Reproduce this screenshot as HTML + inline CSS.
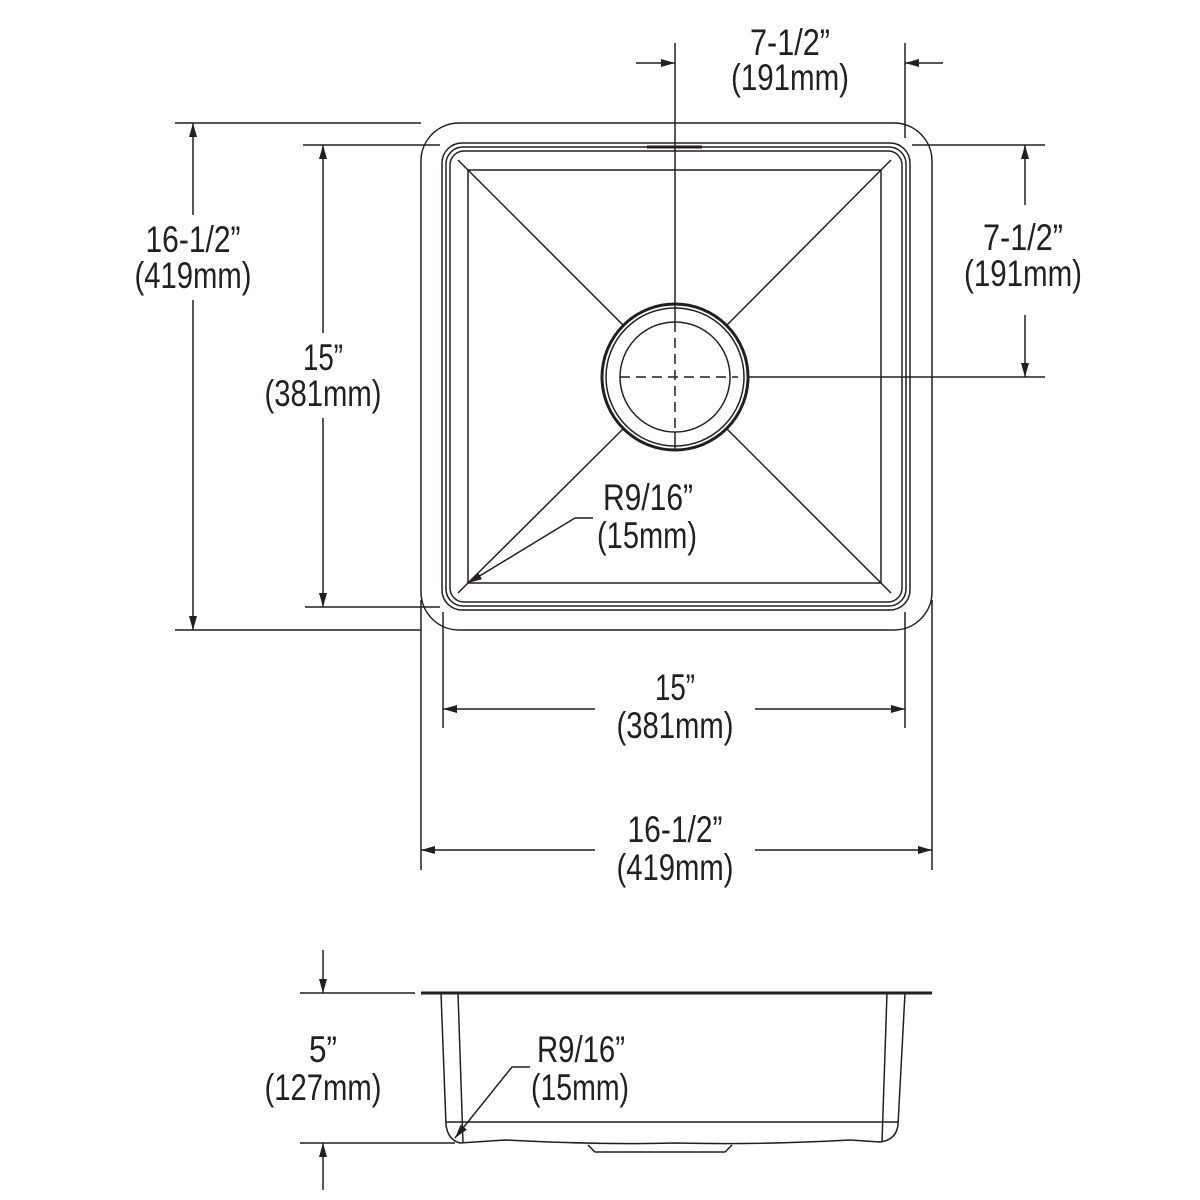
<!DOCTYPE html>
<html><head><style>html,body{margin:0;padding:0;background:#fff}svg{display:block}
text{font-family:"Liberation Sans",sans-serif;font-size:37px;fill:#231f20;text-anchor:middle}</style></head>
<body>
<svg width="1200" height="1200" viewBox="0 0 1200 1200" xmlns="http://www.w3.org/2000/svg">
<defs>
<marker id="a" viewBox="0 0 10 10" refX="10" refY="5" markerWidth="14" markerHeight="8" markerUnits="userSpaceOnUse" orient="auto-start-reverse" preserveAspectRatio="none"><path d="M0,0L10,5L0,10z" fill="#231f20"/></marker>
</defs>
<g fill="none" stroke="#231f20" stroke-width="1.5">
<rect x="421" y="123" width="511" height="507" rx="38"/>
<rect x="442" y="143" width="468" height="467" rx="20"/>
<rect x="446" y="147" width="460" height="459" rx="17"/>
<rect x="450" y="151" width="452" height="451" rx="14"/>
<rect x="468" y="170" width="413" height="413"/>
<path d="M458,160 L468,170 M891,160 L881,170 M458,593 L468,583 M891,593 L881,583"/>
<path d="M468,170L623,325M881,170L727,325M468,583L623,429M881,583L727,429"/>
<circle cx="675" cy="377" r="73" stroke-width="3"/>
<circle cx="675" cy="377" r="69" stroke-width="1.5"/>
<circle cx="675" cy="377" r="55"/>
<path d="M620,377H738" stroke-dasharray="10,6"/>
<path d="M675,322V432" stroke-dasharray="10,6"/>
<line x1="647" y1="147" x2="702" y2="147" stroke-width="3"/>
<line x1="675" y1="43" x2="675" y2="322"/>
<line x1="675" y1="432" x2="675" y2="450"/>
<line x1="905" y1="43" x2="905" y2="138"/>
<line x1="636" y1="63" x2="675" y2="63" marker-end="url(#a)"/>
<line x1="943" y1="63" x2="905" y2="63" marker-end="url(#a)"/>
<line x1="912" y1="145" x2="1045" y2="145"/>
<line x1="748" y1="377" x2="1045" y2="377"/>
<line x1="1025" y1="205" x2="1025" y2="145" marker-end="url(#a)"/>
<line x1="1025" y1="315" x2="1025" y2="377" marker-end="url(#a)"/>
<line x1="175" y1="123" x2="421" y2="123"/>
<line x1="175" y1="630" x2="421" y2="630"/>
<line x1="193" y1="215" x2="193" y2="123" marker-end="url(#a)"/>
<line x1="193" y1="300" x2="193" y2="630" marker-end="url(#a)"/>
<line x1="303" y1="145" x2="440" y2="145"/>
<line x1="305" y1="607" x2="440" y2="607"/>
<line x1="323" y1="333" x2="323" y2="145" marker-end="url(#a)"/>
<line x1="323" y1="418" x2="323" y2="607" marker-end="url(#a)"/>
<line x1="443" y1="612" x2="443" y2="728"/>
<line x1="905" y1="612" x2="905" y2="728"/>
<line x1="595" y1="709" x2="443" y2="709" marker-end="url(#a)"/>
<line x1="755" y1="709" x2="905" y2="709" marker-end="url(#a)"/>
<line x1="421" y1="600" x2="421" y2="870"/>
<line x1="932" y1="600" x2="932" y2="870"/>
<line x1="595" y1="850" x2="421" y2="850" marker-end="url(#a)"/>
<line x1="755" y1="850" x2="932" y2="850" marker-end="url(#a)"/>
<polyline points="593,518 575,518 468,583" marker-end="url(#a)"/>
<line x1="421" y1="993" x2="932" y2="993" stroke-width="3"/>
<path d="M441,993 L446,1125 Q448,1140 460,1143 L505,1140 Q600,1145 675,1143 Q760,1145 850,1140 L880,1142 Q896,1140 898,1125 L905,993"/>
<path d="M458,993 L463,1143 M887,993 L882,1142"/>
<line x1="446" y1="1122" x2="898" y2="1122"/>
<path d="M588,1145 L595,1152 L725,1152 L732,1145"/>
<line x1="300" y1="993" x2="415" y2="993"/>
<line x1="300" y1="1143" x2="455" y2="1143"/>
<line x1="323" y1="950" x2="323" y2="993" marker-end="url(#a)"/>
<line x1="323" y1="1190" x2="323" y2="1143" marker-end="url(#a)"/>
<polyline points="530,1067 512,1067 455,1138" marker-end="url(#a)"/>
</g>
<g>
<text x="790" y="55" textLength="80" lengthAdjust="spacingAndGlyphs">7-1/2”</text>
<text x="790" y="90" textLength="118" lengthAdjust="spacingAndGlyphs">(191mm)</text>
<text x="1023" y="250" textLength="80" lengthAdjust="spacingAndGlyphs">7-1/2”</text>
<text x="1023" y="286" textLength="118" lengthAdjust="spacingAndGlyphs">(191mm)</text>
<text x="193" y="252" textLength="95" lengthAdjust="spacingAndGlyphs">16-1/2”</text>
<text x="193" y="288" textLength="117" lengthAdjust="spacingAndGlyphs">(419mm)</text>
<text x="323" y="370" textLength="40" lengthAdjust="spacingAndGlyphs">15”</text>
<text x="323" y="406" textLength="117" lengthAdjust="spacingAndGlyphs">(381mm)</text>
<text x="648" y="510" textLength="90" lengthAdjust="spacingAndGlyphs">R9/16”</text>
<text x="647" y="548" textLength="100" lengthAdjust="spacingAndGlyphs">(15mm)</text>
<text x="675" y="700" textLength="40" lengthAdjust="spacingAndGlyphs">15”</text>
<text x="675" y="738" textLength="117" lengthAdjust="spacingAndGlyphs">(381mm)</text>
<text x="675" y="842" textLength="95" lengthAdjust="spacingAndGlyphs">16-1/2”</text>
<text x="675" y="880" textLength="117" lengthAdjust="spacingAndGlyphs">(419mm)</text>
<text x="323" y="1062" textLength="28" lengthAdjust="spacingAndGlyphs">5”</text>
<text x="323" y="1100" textLength="117" lengthAdjust="spacingAndGlyphs">(127mm)</text>
<text x="581" y="1062" textLength="88" lengthAdjust="spacingAndGlyphs">R9/16”</text>
<text x="580" y="1100" textLength="98" lengthAdjust="spacingAndGlyphs">(15mm)</text>
</g>
</svg>
</body></html>
